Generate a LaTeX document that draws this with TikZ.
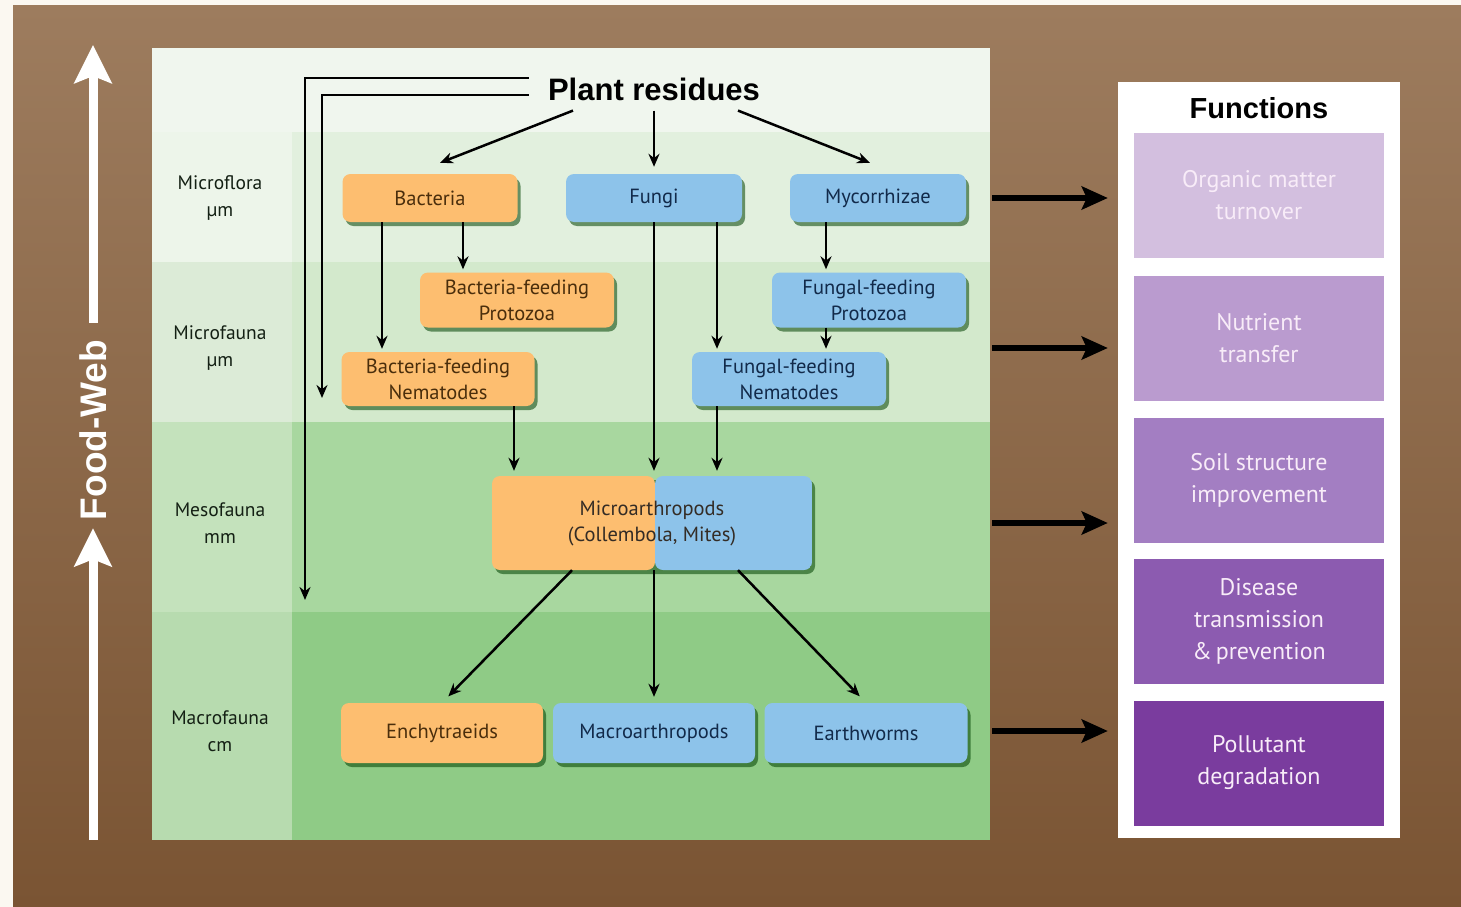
\documentclass[tikz,border=0pt]{standalone}
\usepackage{fontspec}
\newfontfamily\hum{PT Sans}
\newfontfamily\helv{Liberation Sans}
\usetikzlibrary{arrows.meta,shadows}
\definecolor{bgcream}{HTML}{FBF8F1}
\definecolor{browntop}{HTML}{9D7C5E}
\definecolor{brownbot}{HTML}{7A5433}
\definecolor{gTop}{HTML}{F0F6EE}
\definecolor{gFloraL}{HTML}{EDF5EA}
\definecolor{gFloraM}{HTML}{E2F0DE}
\definecolor{gFaunaL}{HTML}{DCEBD7}
\definecolor{gFaunaM}{HTML}{D3E9CC}
\definecolor{gMesoL}{HTML}{C4E2BC}
\definecolor{gMesoM}{HTML}{A8D79F}
\definecolor{gMacroL}{HTML}{B7DBAF}
\definecolor{gMacroM}{HTML}{8FCB86}
\definecolor{orangebox}{HTML}{FDBE70}
\definecolor{bluebox}{HTML}{8DC3EA}
\definecolor{otext}{HTML}{4A2E0C}
\definecolor{btext}{HTML}{122A4A}
\definecolor{labtext}{HTML}{142014}
\definecolor{fA}{HTML}{D3BFDF}
\definecolor{fB}{HTML}{BA9BCF}
\definecolor{fC}{HTML}{A37EC2}
\definecolor{fD}{HTML}{8C5BB0}
\definecolor{fE}{HTML}{7A3C9E}
\definecolor{ftext}{HTML}{F8ECF8}
\tikzset{
  box/.style={rounded corners=8pt, inner sep=0pt, align=center,
    font=\hum\fontsize{20.5}{26}\selectfont,
    drop shadow={shadow xshift=3pt, shadow yshift=-4pt, fill=black!75!green, opacity=0.55}},
  obox/.style={box, fill=orangebox, text=otext},
  bbox/.style={box, fill=bluebox, text=btext},
  lab/.style={align=center, text=labtext, font=\hum\fontsize{19.5}{27}\selectfont},
  fbox/.style={minimum width=250pt, minimum height=125pt, inner sep=0pt, align=center,
    text=ftext, font=\hum\fontsize{24}{32}\selectfont},
  arr/.style={line width=2.5pt, -{Stealth[length=13pt,width=11pt]}},
  sidearr/.style={line width=5.5pt, -{Stealth[length=26pt,width=23pt,inset=5pt]}},
  fwarr/.style={white, line width=9pt, -{Stealth[length=38pt,width=37pt,inset=7pt]}}
}
\begin{document}
\begin{tikzpicture}[x=1pt,y=-1pt]
\useasboundingbox (0,0) rectangle (1461,907);
\fill[bgcream] (0,0) rectangle (1461,907);
\shade[top color=browntop,bottom color=brownbot] (13,6) rectangle (1461,907);

% green panel bands
\fill[gTop] (152,48) rectangle (990,132);
\fill[gFloraL] (152,132) rectangle (292,262);
\fill[gFloraM] (292,132) rectangle (990,262);
\fill[gFaunaL] (152,262) rectangle (292,422);
\fill[gFaunaM] (292,262) rectangle (990,422);
\fill[gMesoL] (152,422) rectangle (292,612);
\fill[gMesoM] (292,422) rectangle (990,612);
\fill[gMacroL] (152,612) rectangle (292,840);
\fill[gMacroM] (292,612) rectangle (990,840);
\node[inner sep=0pt, minimum width=838pt, minimum height=792pt] (panel) at (571,444) {};

% row labels
\node[lab] (lab1) at (220,198) {Microflora\\µm};
\node[lab] (lab2) at (220,348) {Microfauna\\µm};
\node[lab] (lab3) at (220,523) {Mesofauna\\mm};
\node[lab] (lab4) at (220,731) {Macrofauna\\cm};

% food web arrow
\node[rotate=90, inner sep=0pt, text=white, font=\helv\bfseries\fontsize{37}{42}\selectfont] (fw) at (93,430) {Food-Web};
\coordinate (fwtop) at (93,45);
\coordinate (fwbot) at (93,840);
\draw[fwarr] (fwbot) -- ([yshift=-8pt]fw.west);
\draw[fwarr] ([yshift=17pt]fw.east) -- (fwtop);

% plant residues
\node[inner sep=0pt, font=\helv\bfseries\fontsize{31}{36}\selectfont] (pr) at (654,89) {Plant residues};

% food web nodes
\node[obox, minimum width=175pt, minimum height=48pt] (bac) at (430,198) {Bacteria};
\node[bbox, minimum width=176pt, minimum height=48pt] (fun) at (654,198) {Fungi};
\node[bbox, minimum width=176pt, minimum height=48pt] (myc) at (878,198) {Mycorrhizae};
\node[obox, minimum width=194pt, minimum height=55pt] (bfp) at (517,300) {Bacteria-feeding\\Protozoa};
\node[bbox, minimum width=194pt, minimum height=55pt] (ffp) at (869,300) {Fungal-feeding\\Protozoa};
\node[obox, minimum width=193pt, minimum height=54pt] (bfn) at (438,379) {Bacteria-feeding\\Nematodes};
\node[bbox, minimum width=194pt, minimum height=54pt] (ffn) at (789,379) {Fungal-feeding\\Nematodes};
\node[box, minimum width=320pt, minimum height=94pt, text=otext!60!btext,
  path picture={
    \fill[orangebox] (path picture bounding box.south west) rectangle ([xshift=3pt]path picture bounding box.north);
    \fill[bluebox] ([xshift=3pt]path picture bounding box.south) rectangle (path picture bounding box.north east);
  }] (micro) at (652,523) {Microarthropods\\(Collembola, Mites)};
\node[obox, minimum width=202pt, minimum height=60pt] (ench) at (442,733) {Enchytraeids};
\node[bbox, minimum width=202pt, minimum height=60pt] (macro) at (654,733) {Macroarthropods};
\node[bbox, minimum width=203pt, minimum height=60pt] (earth) at (866,733) {Earthworms};

% x guides
\coordinate (x382) at (382,0);
\coordinate (x463) at (463,0);
\coordinate (x514) at (514,0);
\coordinate (x717) at (717,0);
\coordinate (x826) at (826,0);
\coordinate (x572) at (572,0);
\coordinate (x738) at (738,0);
\coordinate (mesoend) at (305,600);
\coordinate (faunaend) at (322,398);

% connectors from plant residues
\draw[arr] ([xshift=-81pt,yshift=-10pt]pr.south) -- ([xshift=10pt,yshift=11pt]bac.north);
\draw[arr] ([yshift=-10pt]pr.south) -- ([yshift=7pt]fun.north);
\draw[arr] ([xshift=84pt,yshift=-10pt]pr.south) -- ([xshift=-8pt,yshift=11pt]myc.north);
\draw[arr] ([xshift=-19pt,yshift=11pt]pr.west) -| (mesoend);
\draw[arr] ([xshift=-19pt,yshift=-6pt]pr.west) -| (faunaend);

% internal connectors
\draw[arr, shorten >=3pt] (bac.south -| x463) -- (bfp.north -| x463);
\draw[arr, shorten >=3pt] (bac.south -| x382) -- (bfn.north -| x382);
\draw[arr, shorten >=5pt] (fun.south) -- (micro.north -| fun.south);
\draw[arr, shorten >=3pt] (fun.south -| x717) -- (ffn.north -| x717);
\draw[arr, shorten >=3pt] (myc.south -| x826) -- (ffp.north -| x826);
\draw[arr, shorten >=3pt] (ffp.south -| x826) -- (ffn.north -| x826);
\draw[arr, shorten >=5pt] (bfn.south -| x514) -- (micro.north -| x514);
\draw[arr, shorten >=5pt] (ffn.south -| x717) -- (micro.north -| x717);
\draw[arr, shorten >=9pt] (micro.south -| x572) -- (ench.north);
\draw[arr, shorten >=6pt] (micro.south -| macro.north) -- (macro.north);
\draw[arr, shorten >=9pt] (micro.south -| x738) -- (earth.north);

% functions panel
\node[fill=white, minimum width=282pt, minimum height=756pt, inner sep=0pt] (fpanel) at (1259,460) {};
\node[inner sep=0pt, font=\helv\bfseries\fontsize{29}{34}\selectfont] (ftitle) at (1259,108) {Functions};
\node[fbox, fill=fA] (f1) at (1259,195.5) {Organic matter\\turnover};
\node[fbox, fill=fB] (f2) at (1259,338.5) {Nutrient\\transfer};
\node[fbox, fill=fC] (f3) at (1259,480) {Soil structure\\improvement};
\node[fbox, fill=fD] (f4) at (1259,621.5) {Disease\\transmission\\\&\,prevention};
\node[fbox, fill=fE] (f5) at (1259,763) {Pollutant\\degradation};

% side arrows
\draw[sidearr, shorten >=10pt] ([xshift=2pt]panel.east |- myc) -- (fpanel.west |- myc);
\draw[sidearr, shorten >=10pt] ([xshift=2pt]panel.east |- lab2) -- (fpanel.west |- lab2);
\draw[sidearr, shorten >=10pt] ([xshift=2pt]panel.east |- lab3) -- (fpanel.west |- lab3);
\draw[sidearr, shorten >=10pt] ([xshift=2pt]panel.east |- lab4) -- (fpanel.west |- lab4);
\end{tikzpicture}
\end{document}
